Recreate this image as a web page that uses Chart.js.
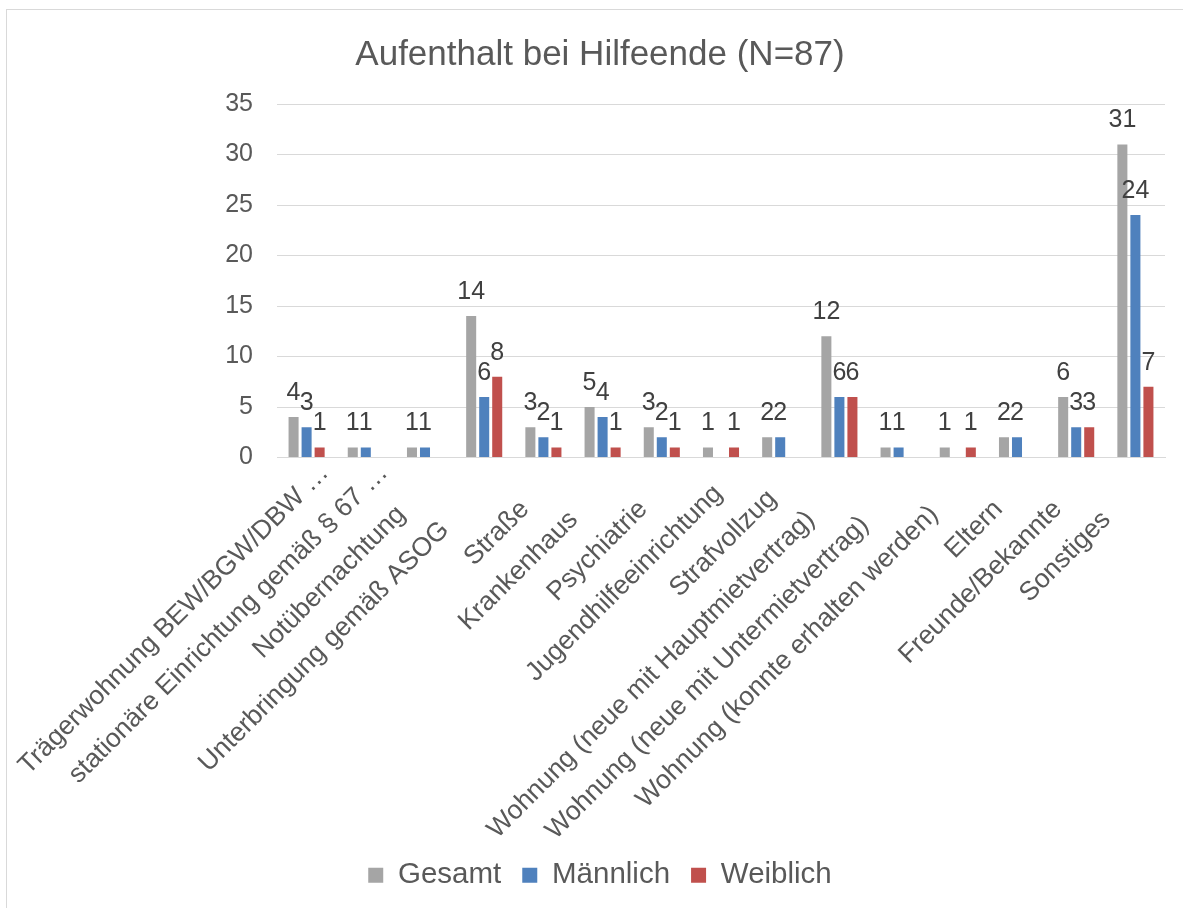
<!DOCTYPE html>
<html>
<head>
<meta charset="utf-8">
<script src="https://cdn.jsdelivr.net/npm/chart.js@4.4.1/dist/chart.umd.min.js"></script>
<style>
html, body { margin: 0; padding: 0; background: #ffffff; }
#wrap { position: relative; width: 1183px; height: 908px; overflow: hidden; background: #ffffff; }
#frame { position: absolute; left: 6px; top: 9px; width: 1300px; height: 1000px; border: 1.5px solid #d9d9d9; box-sizing: border-box; }
#c { position: absolute; left: 0; top: 0; }
</style>
</head>
<body>
<div id="wrap">
  <div id="frame"></div>
  <canvas id="c" width="1183" height="908"></canvas>
</div>
<script>
// ---- data ----
const chartTitle = 'Aufenthalt bei Hilfeende (N=87)';
const categories = [
  'Trägerwohnung BEW/BGW/DBW …',
  'stationäre Einrichtung gemäß § 67 …',
  'Notübernachtung',
  'Unterbringung gemäß ASOG',
  'Straße',
  'Krankenhaus',
  'Psychiatrie',
  'Jugendhilfeeinrichtung',
  'Strafvollzug',
  'Wohnung (neue mit Hauptmietvertrag)',
  'Wohnung (neue mit Untermietvertrag)',
  'Wohnung (konnte erhalten werden)',
  'Eltern',
  'Freunde/Bekannte',
  'Sonstiges'
];
const seriesNames = ['Gesamt', 'Männlich', 'Weiblich'];
const gesamt    = [4, 1, 1, 14, 3, 5, 3, 1, 2, 12, 1, 1, 2, 6, 31];
const maennlich = [3, 1, 1, 6, 2, 4, 2, 0, 2, 6, 1, 0, 2, 3, 24];
const weiblich  = [1, 0, 0, 8, 1, 1, 1, 1, 0, 6, 0, 1, 0, 3, 7];
const yMin = 0, yMax = 35, yStep = 5;

// ---- styling ----
const FONT = '"Liberation Sans", Arial, Helvetica, sans-serif';
const seriesColors = ['#a5a5a5', '#4f81bd', '#c0504d'];
// the source category cells end in blanks; Excel counts them when it places the rotated labels
const labelTrailingBlanks = [0, 0, 8, 11, 7, 9, 7, 4, 5, 9, 10, 8, 7, 7, 9];

Chart.defaults.font.family = FONT;
Chart.defaults.color = '#595959';

const valueLabels = {
  id: 'valueLabels',
  afterDatasetsDraw(chart) {
    const ctx = chart.ctx;
    ctx.save();
    ctx.font = '25px ' + FONT;
    ctx.fillStyle = '#404040';
    ctx.textAlign = 'center';
    ctx.textBaseline = 'middle';
    chart.data.datasets.forEach((ds, di) => {
      const meta = chart.getDatasetMeta(di);
      meta.data.forEach((bar, i) => {
        const v = ds.data[i];
        if (!v) return;
        ctx.fillText(String(v), bar.x, bar.y - 24);
      });
    });
    ctx.restore();
  }
};

// let the long rotated category labels run down past the axis box (as in the original)
const uncropLabels = {
  id: 'uncropLabels',
  afterLayout(chart) {
    chart.scales.x.bottom = chart.height;
  }
};

const seriesData = [gesamt, maennlich, weiblich];

new Chart(document.getElementById('c'), {
  type: 'bar',
  data: {
    labels: categories,
    datasets: seriesNames.map((name, k) => ({
      label: name,
      data: seriesData[k],
      backgroundColor: seriesColors[k],
      borderWidth: 0,
      barPercentage: 0.77,
      categoryPercentage: 0.66
    }))
  },
  options: {
    responsive: false,
    animation: false,
    devicePixelRatio: 1,
    layout: { padding: { left: 35, right: 18, top: 0, bottom: 8 } },
    plugins: {
      title: {
        display: true,
        text: chartTitle,
        color: '#595959',
        font: { size: 35, weight: 'normal', family: FONT },
        padding: { top: 34, bottom: 28 }
      },
      legend: {
        position: 'bottom',
        labels: {
          boxWidth: 15,
          boxHeight: 15,
          padding: 21,
          color: '#595959',
          font: { size: 29.5, family: FONT }
        }
      },
      tooltip: { enabled: false }
    },
    scales: {
      x: {
        offset: true,
        grid: { display: false, drawTicks: false },
        border: { display: true, color: '#d9d9d9', width: 1 },
        ticks: {
          autoSkip: false,
          minRotation: 45,
          maxRotation: 45,
          padding: 0,
          labelOffset: 18,
          color: '#595959',
          font: { size: 26.5, family: FONT },
          callback: function (value, index) {
            return categories[index] + ' '.repeat(labelTrailingBlanks[index]);
          }
        },
        afterFit(scale) {
          scale.height = 382;
          scale.paddingLeft = 0;
          scale.paddingRight = 0;
        }
      },
      y: {
        min: yMin,
        max: yMax,
        grid: { color: '#d9d9d9', lineWidth: 1, drawTicks: false },
        border: { display: false },
        ticks: {
          stepSize: yStep,
          padding: 24,
          color: '#595959',
          font: { size: 25, family: FONT }
        },
        afterFit(scale) { scale.width = 242; }
      }
    }
  },
  plugins: [valueLabels, uncropLabels]
});
</script>
</body>
</html>
